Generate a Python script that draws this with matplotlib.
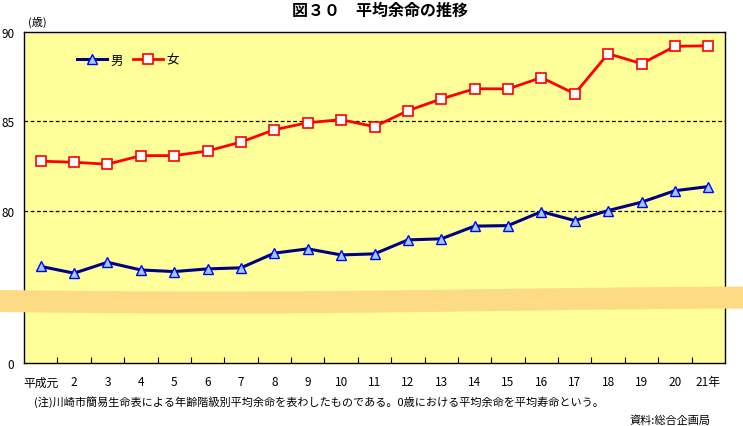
import matplotlib.pyplot as plt
from matplotlib.patches import Polygon
import numpy as np

plt.rcParams['font.family'] = ['Noto Sans CJK JP', 'DejaVu Sans']

years = ["平成元", "2", "3", "4", "5", "6", "7", "8", "9", "10", "11",
         "12", "13", "14", "15", "16", "17", "18", "19", "20", "21年"]
male = [76.90, 76.52, 77.13, 76.70, 76.61, 76.76, 76.82, 77.64, 77.88, 77.54, 77.60,
        78.38, 78.44, 79.15, 79.18, 79.96, 79.46, 80.02, 80.49, 81.13, 81.36]
female = [82.78, 82.72, 82.61, 83.09, 83.09, 83.35, 83.85, 84.54, 84.93, 85.10, 84.71,
          85.60, 86.26, 86.83, 86.82, 87.45, 86.55, 88.79, 88.23, 89.20, 89.23]

# axis bottom stands for 0 (broken axis)
Y_BOTTOM = 71.5

fig = plt.figure(figsize=(7.43, 4.27), dpi=100)
ax = fig.add_axes([24/743, 1-364/427, 701/743, 331/427])
ax.set_facecolor('#FFFF99')

x = np.arange(len(years))
ax.plot(x, male, color='#000080', lw=2.2, marker='^', ms=7.5,
        mfc='#99CCFF', mec='#0000FF', mew=1.0, label='男', zorder=3)
ax.plot(x, female, color='#FF0000', lw=2.0, marker='s', ms=7,
        mfc='white', mec='#FF0000', mew=1.2, label='女', zorder=3)

ax.set_xlim(-0.5, len(years) - 0.5)
ax.set_ylim(Y_BOTTOM, 90)
for v in (80, 85):
    ax.axhline(v, color='black', lw=0.9, ls=(0, (3, 2)), zorder=1)

ax.set_yticks([Y_BOTTOM, 80, 85, 90])
ax.set_yticklabels(['0', '80', '85', '90'], fontsize=8.5)
ax.tick_params(axis='y', length=0, pad=7)

ax.set_xticks(x)
ax.set_xticklabels(years, fontsize=8.5)
ax.set_xticks(np.arange(0.5, len(years) - 1, 1), minor=True)
ax.tick_params(axis='x', which='major', length=0, pad=9)
ax.tick_params(axis='x', which='minor', direction='in', length=4, width=0.8)
for s in ax.spines.values():
    s.set_linewidth(1.0)

leg = ax.legend(loc='upper left', bbox_to_anchor=(0.068, 0.95), ncol=2,
                frameon=False, fontsize=9, handlelength=2.4, handletextpad=0.3,
                columnspacing=0.8, borderaxespad=0)

# break band across the axis
bx = np.linspace(0, 1, 60)
top = 1 - (290 + 2.5*np.sin(bx*np.pi*1.3 + 0.4)) / 427
bot = top - 22/427
band = Polygon(np.column_stack([np.r_[bx, bx[::-1]], np.r_[top, bot[::-1]]]),
               closed=True, transform=fig.transFigure, facecolor='#FDDB85',
               edgecolor='none', zorder=10)
fig.patches.append(band)

fig.text(0.512, 0.975, '図３０　平均余命の推移', ha='center', va='center',
         fontsize=11.5, fontweight='bold')
fig.text(28/743, 1-22/427, '(歳)', ha='left', va='center', fontsize=8)
fig.text(34/743, 1-402/427,
         '(注)川崎市簡易生命表による年齢階級別平均余命を表わしたものである。0歳における平均余命を平均寿命という。',
         ha='left', va='center', fontsize=8)
fig.text(711/743, 1-421/427, '資料:総合企画局', ha='right', va='center', fontsize=8)

fig.savefig('out.png', dpi=100)
